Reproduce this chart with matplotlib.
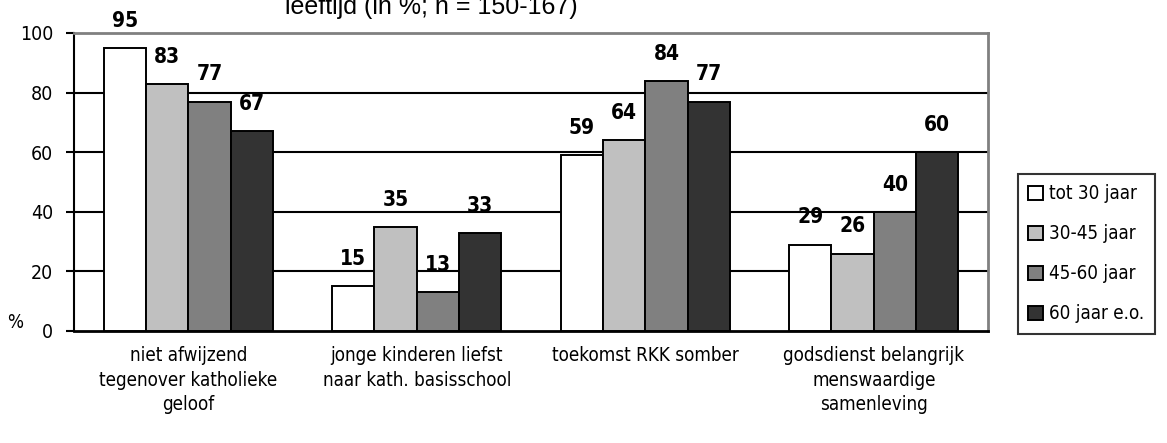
import matplotlib
matplotlib.use('Agg')
import numpy as np
from matplotlib import pyplot as plt

plt.rcParams['font.family'] = ['DejaVu Sans']
plt.rcParams['font.stretch'] = 'condensed'

categories = ['niet afwijzend\ntegenover katholieke\ngeloof',
              'jonge kinderen liefst\nnaar kath. basisschool',
              'toekomst RKK somber',
              'godsdienst belangrijk\nmenswaardige\nsamenleving']
series = ['tot 30 jaar', '30-45 jaar', '45-60 jaar', '60 jaar e.o.']
values = [
    [95, 15, 59, 29],
    [83, 35, 64, 26],
    [77, 13, 84, 40],
    [67, 33, 77, 60],
]
colors = ['#FFFFFF', '#C0C0C0', '#808080', '#333333']
title_line = 'leeftijd (in %; n = 150-167)'

fig = plt.figure(figsize=(11.67, 4.43), dpi=100)
ax = fig.add_axes([74 / 1167, 1 - 331 / 443, (988 - 74) / 1167, (331 - 33) / 443])

x = np.arange(len(categories))
w = 0.185
for j, (name, vals, c) in enumerate(zip(series, values, colors)):
    pos = x + (j - 1.5) * w
    ax.bar(pos, vals, w, color=c, edgecolor='black', linewidth=1.4, label=name, zorder=3)
    for p, v in zip(pos, vals):
        ax.annotate(str(v), (p, v), xytext=(0, 19.5), textcoords='offset points',
                    ha='center', va='center', fontsize=15, fontweight='bold')

ax.set_xlim(-0.5, 3.5)
ax.set_ylim(0, 100)
ax.set_yticks([0, 20, 40, 60, 80, 100])
for y in [20, 40, 60, 80]:
    ax.axhline(y, color='black', linewidth=1.5, zorder=1)

ax.set_xticks(x)
ax.set_xticklabels(categories, fontsize=13.5, linespacing=1.35)
ax.tick_params(axis='x', length=0, pad=11)
ax.tick_params(axis='y', direction='out', length=6, width=1.5, pad=9, labelsize=14)

ax.spines['left'].set_linewidth(1.5)
ax.spines['bottom'].set_linewidth(2)
ax.spines['top'].set_color('#808080')
ax.spines['top'].set_linewidth(2)
ax.spines['right'].set_color('#808080')
ax.spines['right'].set_linewidth(2)

fig.text(15 / 1167, 1 - 322 / 443, '%', fontsize=13.5, ha='center', va='center')
# second line of the title, top is cut off in the original figure
fig.text(431 / 1167, 1 - 14 / 443, title_line, fontsize=18, ha='center', va='baseline',
         family='Liberation Sans', stretch='normal')

leg = ax.legend(loc='upper left', bbox_to_anchor=(1018 / 1167, 1 - 174 / 443),
                bbox_transform=fig.transFigure, fontsize=13.5, frameon=True,
                fancybox=False, edgecolor='black', handlelength=0.8, handleheight=0.8,
                handletextpad=0.3, labelspacing=1.12, borderpad=0.55, borderaxespad=0)
leg.get_frame().set_linewidth(1.5)

fig.savefig('out.png', dpi=100)
